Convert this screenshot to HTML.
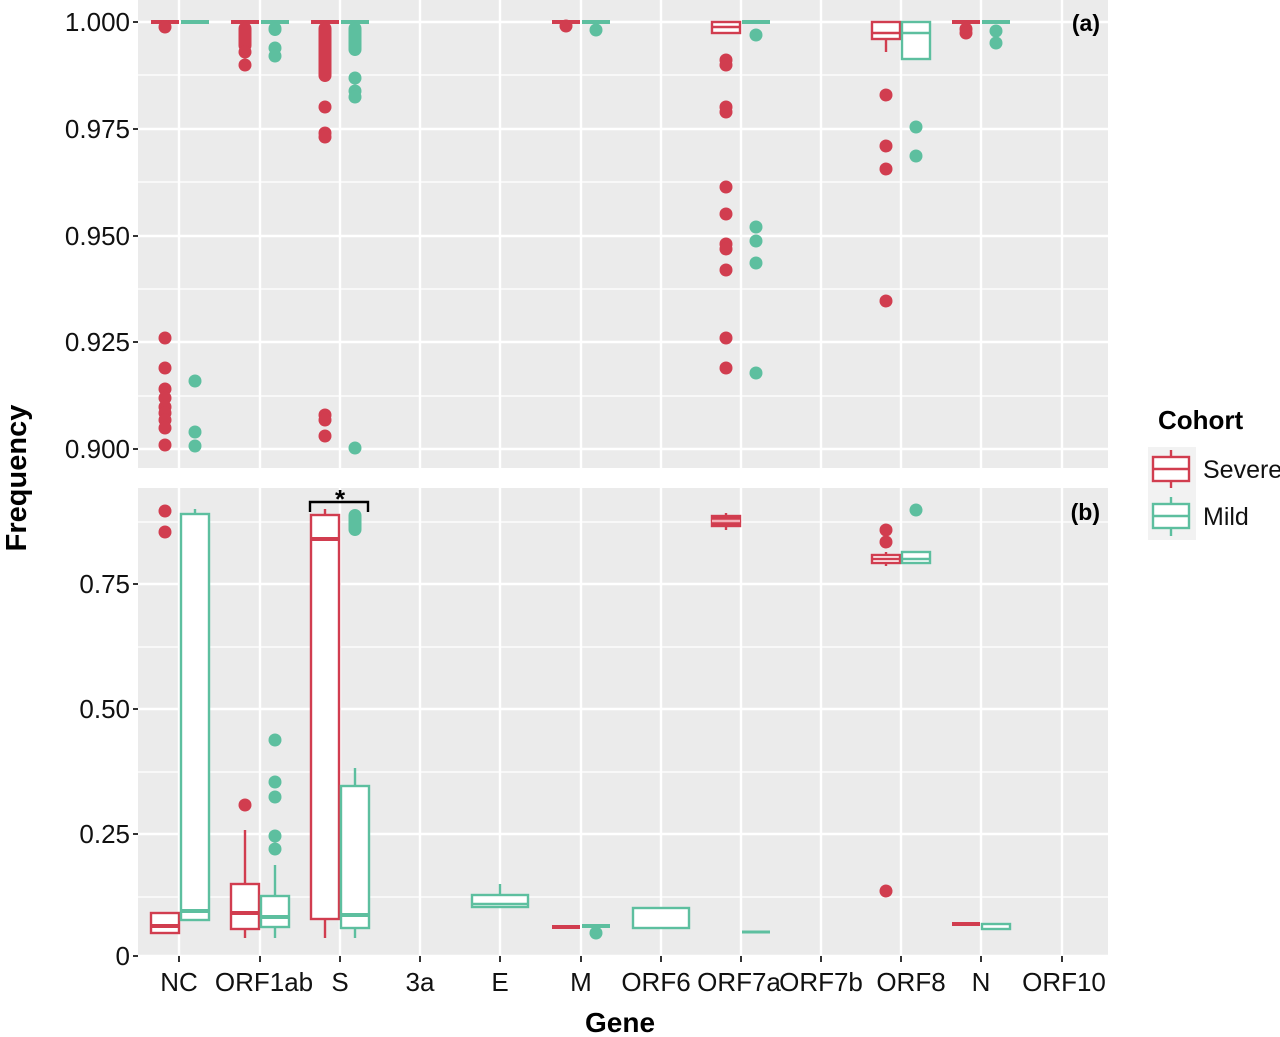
<!DOCTYPE html>
<html><head><meta charset="utf-8"><style>
html,body{margin:0;padding:0;background:#fff}
svg{display:block}
text{font-family:"Liberation Sans",sans-serif}
</style></head><body>
<svg width="1280" height="1037" viewBox="0 0 1280 1037" xmlns="http://www.w3.org/2000/svg">
<rect x="138" y="0" width="970" height="468" fill="#ebebeb"/>
<rect x="138" y="488" width="970" height="468" fill="#ebebeb"/>
<g stroke="#fff">
<g stroke-width="1.2">
<line x1="138" x2="1108" y1="75" y2="75"/><line x1="138" x2="1108" y1="182" y2="182"/><line x1="138" x2="1108" y1="289" y2="289"/><line x1="138" x2="1108" y1="396" y2="396"/>
<line x1="138" x2="1108" y1="522" y2="522"/><line x1="138" x2="1108" y1="647" y2="647"/><line x1="138" x2="1108" y1="772" y2="772"/><line x1="138" x2="1108" y1="897" y2="897"/>
</g>
<g stroke-width="2.4">
<line x1="138" x2="1108" y1="22" y2="22"/><line x1="138" x2="1108" y1="129" y2="129"/><line x1="138" x2="1108" y1="236" y2="236"/><line x1="138" x2="1108" y1="342" y2="342"/><line x1="138" x2="1108" y1="449" y2="449"/>
<line x1="138" x2="1108" y1="584" y2="584"/><line x1="138" x2="1108" y1="709" y2="709"/><line x1="138" x2="1108" y1="834" y2="834"/><line x1="138" x2="1108" y1="956" y2="956"/>
<g id="vg">
<line x1="179" x2="179" y1="0" y2="468"/><line x1="260" x2="260" y1="0" y2="468"/><line x1="340" x2="340" y1="0" y2="468"/><line x1="420" x2="420" y1="0" y2="468"/><line x1="500" x2="500" y1="0" y2="468"/><line x1="581" x2="581" y1="0" y2="468"/><line x1="661" x2="661" y1="0" y2="468"/><line x1="741" x2="741" y1="0" y2="468"/><line x1="821" x2="821" y1="0" y2="468"/><line x1="901" x2="901" y1="0" y2="468"/><line x1="981" x2="981" y1="0" y2="468"/><line x1="1062" x2="1062" y1="0" y2="468"/>
</g>
<use href="#vg" y="488"/>
</g>
</g>

<g fill="#d13d4f" stroke="#d13d4f">
<g stroke-width="4">
<line x1="151" x2="179" y1="22" y2="22"/><line x1="231" x2="259" y1="22" y2="22"/><line x1="311" x2="339" y1="22" y2="22"/><line x1="552" x2="580" y1="22" y2="22"/><line x1="952" x2="980" y1="22" y2="22"/>
</g>
<g stroke="none">
<circle cx="165" cy="27" r="6.5"/>
<circle cx="165" cy="338" r="6.5"/><circle cx="165" cy="368" r="6.5"/><circle cx="165" cy="389" r="6.5"/><circle cx="165" cy="398" r="6.5"/><circle cx="165" cy="407" r="6.5"/><circle cx="165" cy="413" r="6.5"/><circle cx="165" cy="420" r="6.5"/><circle cx="165" cy="428" r="6.5"/><circle cx="165" cy="445" r="6.5"/>
<rect x="238.5" y="22" width="13" height="30" rx="6.5"/><circle cx="245" cy="52" r="6.5"/><circle cx="245" cy="65" r="6.5"/>
<rect x="318.5" y="22" width="13" height="60" rx="6.5"/><circle cx="325" cy="107" r="6.5"/><circle cx="325" cy="133" r="6.5"/><circle cx="325" cy="137" r="6.5"/><circle cx="325" cy="415" r="6.5"/><circle cx="325" cy="420" r="6.5"/><circle cx="325" cy="436" r="6.5"/>
<circle cx="566" cy="26" r="6.5"/>
<circle cx="726" cy="60" r="6.5"/><circle cx="726" cy="65" r="6.5"/><circle cx="726" cy="107" r="6.5"/><circle cx="726" cy="112" r="6.5"/><circle cx="726" cy="187" r="6.5"/><circle cx="726" cy="214" r="6.5"/><circle cx="726" cy="244" r="6.5"/><circle cx="726" cy="249" r="6.5"/><circle cx="726" cy="270" r="6.5"/><circle cx="726" cy="338" r="6.5"/><circle cx="726" cy="368" r="6.5"/>
<circle cx="886" cy="95" r="6.5"/><circle cx="886" cy="146" r="6.5"/><circle cx="886" cy="169" r="6.5"/><circle cx="886" cy="301" r="6.5"/>
<circle cx="966" cy="29" r="6.5"/><circle cx="966" cy="33" r="6.5"/>
</g>
<g fill="#fff" stroke-width="2.4">
<rect x="712" y="22" width="28" height="11"/><line x1="712" x2="740" y1="27" y2="27"/>
<line x1="886" x2="886" y1="39" y2="52"/><rect x="872" y="22" width="28" height="17"/><line x1="872" x2="900" y1="33" y2="33"/>
</g>
</g>
<g fill="#5dbf9f" stroke="#5dbf9f">
<g stroke-width="4">
<line x1="181" x2="209" y1="22" y2="22"/><line x1="261" x2="289" y1="22" y2="22"/><line x1="341" x2="369" y1="22" y2="22"/><line x1="582" x2="610" y1="22" y2="22"/><line x1="742" x2="770" y1="22" y2="22"/><line x1="982" x2="1010" y1="22" y2="22"/>
</g>
<g stroke="none">
<circle cx="195" cy="381" r="6.5"/><circle cx="195" cy="432" r="6.5"/><circle cx="195" cy="446" r="6.5"/>
<rect x="268.5" y="22" width="13" height="14" rx="6.5"/><circle cx="275" cy="48" r="6.5"/><circle cx="275" cy="56" r="6.5"/>
<rect x="348.5" y="22" width="13" height="34" rx="6.5"/><circle cx="355" cy="78" r="6.5"/><circle cx="355" cy="91" r="6.5"/><circle cx="355" cy="97" r="6.5"/><circle cx="355" cy="448" r="6.5"/>
<circle cx="596" cy="30" r="6.5"/>
<circle cx="756" cy="35" r="6.5"/><circle cx="756" cy="227" r="6.5"/><circle cx="756" cy="241" r="6.5"/><circle cx="756" cy="263" r="6.5"/><circle cx="756" cy="373" r="6.5"/>
<circle cx="916" cy="127" r="6.5"/><circle cx="916" cy="156" r="6.5"/>
<circle cx="996" cy="31" r="6.5"/><circle cx="996" cy="43" r="6.5"/>
</g>
<g fill="#fff" stroke-width="2.4">
<rect x="902" y="22" width="28" height="37"/><line x1="902" x2="930" y1="33" y2="33"/>
</g>
</g>

<g stroke="#d13d4f" fill="#fff" stroke-width="2.4">
<rect x="151" y="913" width="28" height="20"/><line x1="151" x2="179" y1="926" y2="926" stroke-width="4"/>
<line x1="245" x2="245" y1="830" y2="938"/><rect x="231" y="884" width="28" height="45"/><line x1="231" x2="259" y1="913" y2="913" stroke-width="4"/>
<line x1="325" x2="325" y1="509" y2="938"/><rect x="311" y="515" width="28" height="404"/><line x1="311" x2="339" y1="539" y2="539" stroke-width="4"/>
<line x1="552" x2="580" y1="927" y2="927" stroke-width="4"/>
<line x1="726" x2="726" y1="513" y2="530"/><rect x="712" y="516" width="28" height="10" fill="#d13d4f"/><line x1="712" x2="740" y1="521" y2="521" stroke="#f4b0b8"/>
<line x1="886" x2="886" y1="552" y2="566"/><rect x="872" y="555" width="28" height="8"/><line x1="872" x2="900" y1="559" y2="559"/>
<line x1="952" x2="980" y1="924" y2="924" stroke-width="4"/>
</g>
<g fill="#d13d4f">
<circle cx="165" cy="511" r="6.5"/><circle cx="165" cy="532" r="6.5"/><circle cx="245" cy="805" r="6.5"/>
<circle cx="886" cy="530" r="6.5"/><circle cx="886" cy="542" r="6.5"/><circle cx="886" cy="891" r="6.5"/>
</g>
<g stroke="#5dbf9f" fill="#fff" stroke-width="2.4">
<line x1="195" x2="195" y1="509" y2="514"/><rect x="181" y="514" width="28" height="406"/><line x1="181" x2="209" y1="911" y2="911" stroke-width="4"/>
<line x1="275" x2="275" y1="865" y2="938"/><rect x="261" y="896" width="28" height="31"/><line x1="261" x2="289" y1="917" y2="917" stroke-width="4"/>
<line x1="355" x2="355" y1="768" y2="938"/><rect x="341" y="786" width="28" height="142"/><line x1="341" x2="369" y1="915" y2="915" stroke-width="4"/>
<line x1="500" x2="500" y1="884" y2="895"/><rect x="472" y="895" width="56" height="12"/><line x1="472" x2="528" y1="904" y2="904"/>
<line x1="582" x2="610" y1="926" y2="926" stroke-width="4"/>
<rect x="633" y="908" width="56" height="20"/>
<line x1="742" x2="770" y1="932" y2="932" stroke-width="3"/>
<rect x="902" y="552" width="28" height="11"/><line x1="902" x2="930" y1="559" y2="559"/>
<rect x="982" y="924" width="28" height="5"/>
</g>
<g fill="#5dbf9f">
<circle cx="275" cy="740" r="6.5"/><circle cx="275" cy="782" r="6.5"/><circle cx="275" cy="797" r="6.5"/><circle cx="275" cy="836" r="6.5"/><circle cx="275" cy="849" r="6.5"/>
<rect x="348.5" y="509" width="13" height="27" rx="6.5"/>
<circle cx="596" cy="933" r="6.5"/><circle cx="916" cy="510" r="6.5"/>
</g>
<path d="M310 512 V502 H368 V512" fill="none" stroke="#000" stroke-width="2.4"/>
<text x="340" y="508" font-size="26" font-weight="bold" text-anchor="middle">*</text>

<text x="1100" y="31" font-size="23" font-weight="bold" text-anchor="end">(a)</text>
<text x="1100" y="520" font-size="23" font-weight="bold" text-anchor="end">(b)</text>

<g stroke="#333" stroke-width="2">
<line x1="133" x2="138" y1="22" y2="22"/><line x1="133" x2="138" y1="129" y2="129"/><line x1="133" x2="138" y1="236" y2="236"/><line x1="133" x2="138" y1="342" y2="342"/><line x1="133" x2="138" y1="449" y2="449"/>
<line x1="133" x2="138" y1="584" y2="584"/><line x1="133" x2="138" y1="709" y2="709"/><line x1="133" x2="138" y1="834" y2="834"/><line x1="133" x2="138" y1="956" y2="956"/>
<line x1="179" x2="179" y1="956" y2="962"/><line x1="260" x2="260" y1="956" y2="962"/><line x1="340" x2="340" y1="956" y2="962"/><line x1="420" x2="420" y1="956" y2="962"/><line x1="500" x2="500" y1="956" y2="962"/><line x1="581" x2="581" y1="956" y2="962"/><line x1="661" x2="661" y1="956" y2="962"/><line x1="741" x2="741" y1="956" y2="962"/><line x1="821" x2="821" y1="956" y2="962"/><line x1="901" x2="901" y1="956" y2="962"/><line x1="981" x2="981" y1="956" y2="962"/><line x1="1062" x2="1062" y1="956" y2="962"/>
</g>
<g font-size="26" fill="#111" text-anchor="end">
<text x="130" y="31">1.000</text><text x="130" y="138">0.975</text><text x="130" y="245">0.950</text><text x="130" y="351">0.925</text><text x="130" y="458">0.900</text>
<text x="130" y="593">0.75</text><text x="130" y="718">0.50</text><text x="130" y="843">0.25</text><text x="130" y="965">0</text>
</g>
<g font-size="26" fill="#111" text-anchor="middle">
<text x="179" y="991">NC</text><text x="264" y="991">ORF1ab</text><text x="340" y="991">S</text><text x="420" y="991">3a</text><text x="500" y="991">E</text><text x="581" y="991">M</text><text x="656" y="991">ORF6</text><text x="739" y="991">ORF7a</text><text x="821" y="991">ORF7b</text><text x="911" y="991">ORF8</text><text x="981" y="991">N</text><text x="1064" y="991">ORF10</text>
</g>
<text x="620" y="1032" font-size="28" font-weight="bold" text-anchor="middle">Gene</text>
<text transform="translate(26,478) rotate(-90)" font-size="29" font-weight="bold" text-anchor="middle">Frequency</text>

<text x="1158" y="429" font-size="26" font-weight="bold">Cohort</text>
<rect x="1148" y="447" width="48" height="93" fill="#f2f2f2"/>
<g fill="#fff" stroke-width="2.4">
<g stroke="#d13d4f"><line x1="1171" x2="1171" y1="450" y2="488"/><rect x="1153" y="457" width="36" height="24"/><line x1="1153" x2="1189" y1="469" y2="469"/></g>
<g stroke="#5dbf9f"><line x1="1171" x2="1171" y1="497" y2="536"/><rect x="1153" y="504" width="36" height="24"/><line x1="1153" x2="1189" y1="516" y2="516"/></g>
</g>
<text x="1203" y="478" font-size="25" fill="#111">Severe</text>
<text x="1203" y="525" font-size="25" fill="#111">Mild</text>
</svg>
</body></html>
